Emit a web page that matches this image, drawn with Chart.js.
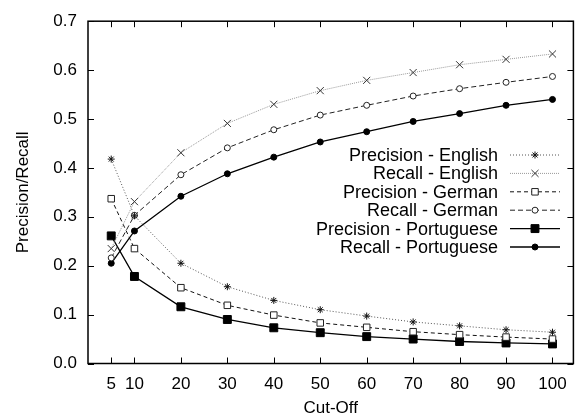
<!DOCTYPE html>
<html>
<head>
<meta charset="utf-8">
<script src="https://cdn.jsdelivr.net/npm/chart.js@4/dist/chart.umd.min.js"></script>
<style>
  html, body { margin: 0; padding: 0; background: #fff; }
  #wrap { width: 580px; height: 420px; }
</style>
</head>
<body>
<div id="wrap"><canvas id="myChart" width="580" height="420"></canvas></div>
<script>
const cutOffs = [5, 10, 20, 30, 40, 50, 60, 70, 80, 90, 100];
const yTicks = [0, 0.1, 0.2, 0.3, 0.4, 0.5, 0.6, 0.7];

const precisionEnglish = [0.418, 0.302, 0.205, 0.157, 0.129, 0.110, 0.097, 0.085, 0.077, 0.069, 0.064];
const recallEnglish = [0.235, 0.331, 0.431, 0.491, 0.530, 0.558, 0.579, 0.595, 0.611, 0.622, 0.633];
const precisionGerman = [0.337, 0.235, 0.155, 0.119, 0.099, 0.083, 0.074, 0.065, 0.059, 0.054, 0.050];
const recallGerman = [0.216, 0.303, 0.386, 0.441, 0.478, 0.508, 0.528, 0.547, 0.562, 0.575, 0.587];
const precisionPortuguese = [0.261, 0.178, 0.116, 0.090, 0.073, 0.063, 0.055, 0.050, 0.045, 0.042, 0.040];
const recallPortuguese = [0.205, 0.271, 0.342, 0.388, 0.422, 0.453, 0.474, 0.495, 0.511, 0.528, 0.540];

const FONT = 'Liberation Sans, Arial, Helvetica, sans-serif';

const toPoints = arr => arr.map((v, i) => ({x: cutOffs[i], y: v}));

const series = [
    {label: 'Precision - English', data: precisionEnglish, color: '#555', dash: [1, 2], style: 'star', r: 3.5, fill: '#000', mark: '#111'},
    {label: 'Recall - English', data: recallEnglish, color: '#999', dash: [1, 1], style: 'crossRot', r: 5, fill: '#000', mark: '#333'},
    {label: 'Precision - German', data: precisionGerman, color: '#111', dash: [4, 3], style: 'rect', r: 4.6, fill: '#fff', mark: '#222'},
    {label: 'Recall - German', data: recallGerman, color: '#222', dash: [5, 3], style: 'circle', r: 3, fill: '#fff', mark: '#222'},
    {label: 'Precision - Portuguese', data: precisionPortuguese, color: '#000', dash: [], style: 'rect', r: 5.6, fill: '#000', mark: '#000'},
    {label: 'Recall - Portuguese', data: recallPortuguese, color: '#000', dash: [], style: 'circle', r: 3, fill: '#000', mark: '#000'}
];

function drawMark(ctx, style, r, x, y) {
    ctx.beginPath();
    if (style === 'circle') {
        ctx.arc(x, y, r, 0, Math.PI * 2);
        ctx.fill(); ctx.stroke();
    } else if (style === 'rect') {
        const s = r * Math.SQRT1_2;
        ctx.rect(x - s, y - s, 2 * s, 2 * s);
        ctx.fill(); ctx.stroke();
    } else if (style === 'crossRot') {
        const s = r * Math.SQRT1_2;
        ctx.moveTo(x - s, y - s); ctx.lineTo(x + s, y + s);
        ctx.moveTo(x - s, y + s); ctx.lineTo(x + s, y - s);
        ctx.stroke();
    } else {
        const s = r * Math.SQRT1_2;
        ctx.moveTo(x - r, y); ctx.lineTo(x + r, y);
        ctx.moveTo(x, y - r); ctx.lineTo(x, y + r);
        ctx.moveTo(x - s, y - s); ctx.lineTo(x + s, y + s);
        ctx.moveTo(x - s, y + s); ctx.lineTo(x + s, y - s);
        ctx.stroke();
    }
}

// gnuplot-ish frame, inward ticks and key
const framePlugin = {
    id: 'frame',
    afterDatasetsDraw(chart) {
        const {ctx, chartArea: a, scales} = chart;
        ctx.save();
        ctx.strokeStyle = '#000';
        ctx.lineWidth = 1;
        ctx.beginPath();
        cutOffs.forEach(v => {
            const x = Math.round(scales.x.getPixelForValue(v)) + 0.5;
            ctx.moveTo(x, a.bottom); ctx.lineTo(x, a.bottom - 6);
            ctx.moveTo(x, a.top); ctx.lineTo(x, a.top + 6);
        });
        yTicks.forEach(v => {
            const y = Math.round(scales.y.getPixelForValue(v)) + 0.5;
            ctx.moveTo(a.left, y); ctx.lineTo(a.left + 6, y);
            ctx.moveTo(a.right, y); ctx.lineTo(a.right - 6, y);
        });
        ctx.stroke();
        ctx.lineWidth = 1.5;
        ctx.strokeRect(a.left, a.top, a.right - a.left, a.bottom - a.top);

        // key
        ctx.font = '18px ' + FONT;
        ctx.textAlign = 'right';
        ctx.textBaseline = 'middle';
        chart.data.datasets.forEach((ds, i) => {
            const y = 155 + i * 18.4;
            ctx.fillStyle = '#000';
            ctx.fillText(ds.label, 498, y + 1);
            ctx.strokeStyle = ds.borderColor;
            ctx.lineWidth = ds.borderWidth;
            ctx.setLineDash(ds.borderDash);
            ctx.beginPath();
            ctx.moveTo(510, y); ctx.lineTo(560, y);
            ctx.stroke();
            ctx.setLineDash([]);
            ctx.fillStyle = ds.pointBackgroundColor;
            ctx.strokeStyle = ds.pointBorderColor;
            ctx.lineWidth = 1;
            drawMark(ctx, ds.pointStyle, ds.pointRadius, 535, y);
        });
        ctx.restore();
    }
};

new Chart(document.getElementById('myChart'), {
    type: 'line',
    plugins: [framePlugin],
    data: {
        datasets: series.map(s => ({
            label: s.label,
            data: toPoints(s.data),
            borderColor: s.color,
            borderWidth: s.dash.length ? 1 : 1.3,
            borderDash: s.dash,
            pointStyle: s.style,
            pointRadius: s.r,
            pointHoverRadius: s.r,
            pointBorderColor: s.mark,
            pointBackgroundColor: s.fill,
            pointBorderWidth: 1,
            fill: false,
            tension: 0
        }))
    },
    options: {
        responsive: false,
        animation: false,
        layout: {padding: {top: 15, right: 1, left: 0, bottom: 0}},
        plugins: {
            legend: {display: false},
            tooltip: {enabled: false}
        },
        scales: {
            x: {
                type: 'linear',
                min: 0,
                max: 104.5,
                grid: {display: false, drawTicks: false},
                border: {display: false},
                afterBuildTicks: scale => { scale.ticks = cutOffs.map(v => ({value: v})); },
                afterFit: scale => { scale.height = 56.5; },
                ticks: {
                    autoSkip: false,
                    maxRotation: 0,
                    padding: 11,
                    color: '#000',
                    font: {family: FONT, size: 17},
                    callback: v => String(v)
                },
                title: {
                    display: true,
                    text: 'Cut-Off',
                    color: '#000',
                    font: {family: FONT, size: 17},
                    padding: {top: 0, bottom: 1}
                }
            },
            y: {
                min: 0,
                max: 0.7,
                grid: {display: false, drawTicks: false},
                border: {display: false},
                afterBuildTicks: scale => { scale.ticks = yTicks.map(v => ({value: v})); },
                afterFit: scale => { scale.width = 88; },
                ticks: {
                    padding: 11,
                    color: '#000',
                    font: {family: FONT, size: 17},
                    callback: v => v.toFixed(1)
                },
                title: {
                    display: true,
                    text: 'Precision/Recall',
                    color: '#000',
                    font: {family: FONT, size: 17},
                    padding: {top: 13, bottom: 0}
                }
            }
        }
    }
});
</script>
</body>
</html>
